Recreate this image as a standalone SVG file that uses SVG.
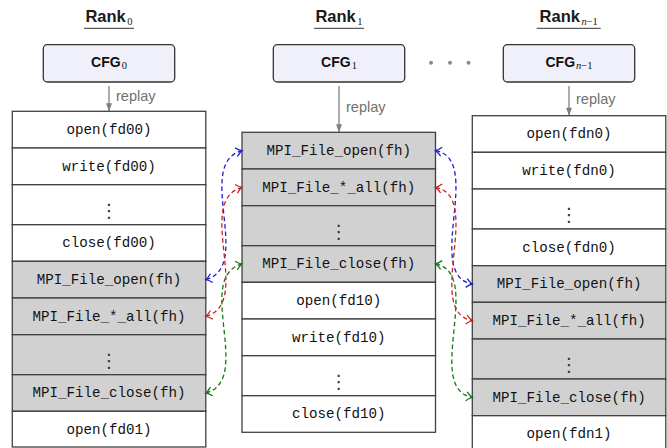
<svg xmlns="http://www.w3.org/2000/svg" width="667" height="448" viewBox="0 0 667 448">
<style>
.rank{font-family:"Liberation Sans",Arial,sans-serif;font-weight:bold;font-size:16.5px;fill:#1a1a1a;text-anchor:middle}
.sub{font-family:"Liberation Serif","Times New Roman",serif;font-weight:normal;font-size:10.5px}
.it{font-style:italic}
.ul{stroke:#333;stroke-width:1}
.cfgbox{fill:#f0f0fb;stroke:#333;stroke-width:1.3}
.cfgt{font-family:"Liberation Sans",Arial,sans-serif;font-weight:bold;font-size:14px;fill:#111;text-anchor:middle}
.w{fill:#fff;stroke:#404040;stroke-width:1.3}
.g{fill:#d1d1d1;stroke:#404040;stroke-width:1.3}
.code{font-family:"Liberation Mono","Courier New",monospace;font-size:14.2px;fill:#111;text-anchor:middle}
.vd{font-family:"DejaVu Sans",sans-serif;font-size:18.5px;fill:#333;text-anchor:middle}
.rp{stroke:#808080;stroke-width:1.3;fill:none}
.rl{font-family:"Liberation Sans",Arial,sans-serif;font-size:14.5px;fill:#707070}
.dot{fill:#8a8a8a}
.conn{fill:none;stroke-width:1.3;stroke-dasharray:4.5 3}
.b{stroke:#1f1fd0}.r{stroke:#cc2020}.gr{stroke:#187818}
</style>
<defs>
<marker id="tri" markerUnits="userSpaceOnUse" markerWidth="10" markerHeight="10" orient="auto" overflow="visible" refX="0" refY="0">
<path d="M0,0 L-8,-3 L-8,3 Z" fill="#808080"/>
</marker>
<marker id="ab" markerUnits="userSpaceOnUse" markerWidth="10" markerHeight="10" orient="auto-start-reverse" overflow="visible" refX="0" refY="0">
<path d="M-6,-4.5 Q-2.5,-1 0,0 Q-2.5,1 -6,4.5" fill="none" stroke="#1f1fd0" stroke-width="1.3"/>
</marker>
<marker id="ar" markerUnits="userSpaceOnUse" markerWidth="10" markerHeight="10" orient="auto-start-reverse" overflow="visible" refX="0" refY="0">
<path d="M-6,-4.5 Q-2.5,-1 0,0 Q-2.5,1 -6,4.5" fill="none" stroke="#cc2020" stroke-width="1.3"/>
</marker>
<marker id="ag" markerUnits="userSpaceOnUse" markerWidth="10" markerHeight="10" orient="auto-start-reverse" overflow="visible" refX="0" refY="0">
<path d="M-6,-4.5 Q-2.5,-1 0,0 Q-2.5,1 -6,4.5" fill="none" stroke="#187818" stroke-width="1.3"/>
</marker>
</defs>

<!-- headers -->
<g id="rank0"><text class="rank" x="109" y="21.7">Rank<tspan class="sub" dx="1.5" dy="3">0</tspan></text><line class="ul" x1="84" y1="28.3" x2="134" y2="28.3"/></g>
<g id="rank1"><text class="rank" x="339" y="21.7">Rank<tspan class="sub" dx="1.5" dy="3">1</tspan></text><line class="ul" x1="314" y1="28.3" x2="364" y2="28.3"/></g>
<g id="rankn"><text class="rank" x="568.7" y="21.7">Rank<tspan class="sub" dx="1.5" dy="3"><tspan class="it">n</tspan>−1</tspan></text><line class="ul" x1="536.7" y1="28.3" x2="600.7" y2="28.3"/></g>

<!-- CFG boxes -->
<g id="cfg0"><rect class="cfgbox" x="43.3" y="44.7" width="131.4" height="37.3" rx="4"/><text class="cfgt" x="109" y="67.3">CFG<tspan class="sub" dx="1" dy="2">0</tspan></text></g>
<g id="cfg1"><rect class="cfgbox" x="273.3" y="44.7" width="131.4" height="37.3" rx="4"/><text class="cfgt" x="339" y="67.3">CFG<tspan class="sub" dx="1" dy="2">1</tspan></text></g>
<g id="cfgn"><rect class="cfgbox" x="503.3" y="44.7" width="131.4" height="37.3" rx="4"/><text class="cfgt" x="569" y="67.3">CFG<tspan class="sub" dx="1" dy="2"><tspan class="it">n</tspan>−1</tspan></text></g>
<g id="ellipsis"><circle class="dot" cx="431" cy="62.7" r="2"/><circle class="dot" cx="450" cy="62.7" r="2"/><circle class="dot" cx="468.5" cy="62.7" r="2"/></g>

<!-- replay arrows -->
<g id="replay0"><line class="rp" x1="109" y1="86" x2="109" y2="111.3" marker-end="url(#tri)"/><text class="rl" x="116" y="101.4">replay</text></g>
<g id="replay1"><line class="rp" x1="339" y1="86" x2="339" y2="132.3" marker-end="url(#tri)"/><text class="rl" x="346" y="112.4">replay</text></g>
<g id="replayn"><line class="rp" x1="569" y1="86" x2="569" y2="115.7" marker-end="url(#tri)"/><text class="rl" x="576" y="104.4">replay</text></g>

<!-- Rank0 column -->
<g id="r0c1"><rect class="w" x="12.3" y="111.3" width="193.5" height="36.7"/><text class="code" x="109" y="133.95">open(fd00)</text></g>
<g id="r0c2"><rect class="w" x="12.3" y="148" width="193.5" height="36.7"/><text class="code" x="109" y="170.65">write(fd00)</text></g>
<g id="r0c3"><rect class="w" x="12.3" y="184.7" width="193.5" height="40"/><text class="vd" x="109" y="216.5">⋮</text></g>
<g id="r0c4"><rect class="w" x="12.3" y="224.7" width="193.5" height="36.6"/><text class="code" x="109" y="247.3">close(fd00)</text></g>
<g id="r0c5"><rect class="g" x="12.3" y="261.3" width="193.5" height="36.7"/><text class="code" x="109" y="283.95">MPI_File_open(fh)</text></g>
<g id="r0c6"><rect class="g" x="12.3" y="298" width="193.5" height="36.7"/><text class="code" x="109" y="320.65">MPI_File_*_all(fh)</text></g>
<g id="r0c7"><rect class="g" x="12.3" y="334.7" width="193.5" height="40"/><text class="vd" x="109" y="366.5">⋮</text></g>
<g id="r0c8"><rect class="g" x="12.3" y="374.7" width="193.5" height="36.6"/><text class="code" x="109" y="397.3">MPI_File_close(fh)</text></g>
<g id="r0c9"><rect class="w" x="12.3" y="411.3" width="193.5" height="35.7"/><text class="code" x="109" y="433.95">open(fd01)</text></g>

<!-- Rank1 column -->
<g id="r1c1"><rect class="g" x="242" y="132.3" width="193.5" height="36.7"/><text class="code" x="338.75" y="154.95">MPI_File_open(fh)</text></g>
<g id="r1c2"><rect class="g" x="242" y="169" width="193.5" height="36.7"/><text class="code" x="338.75" y="191.65">MPI_File_*_all(fh)</text></g>
<g id="r1c3"><rect class="g" x="242" y="205.7" width="193.5" height="40"/><text class="vd" x="338.75" y="237.5">⋮</text></g>
<g id="r1c4"><rect class="g" x="242" y="245.7" width="193.5" height="36.6"/><text class="code" x="338.75" y="268.3">MPI_File_close(fh)</text></g>
<g id="r1c5"><rect class="w" x="242" y="282.3" width="193.5" height="36.7"/><text class="code" x="338.75" y="304.95">open(fd10)</text></g>
<g id="r1c6"><rect class="w" x="242" y="319" width="193.5" height="36.7"/><text class="code" x="338.75" y="341.65">write(fd10)</text></g>
<g id="r1c7"><rect class="w" x="242" y="355.7" width="193.5" height="40"/><text class="vd" x="338.75" y="387.5">⋮</text></g>
<g id="r1c8"><rect class="w" x="242" y="395.7" width="193.5" height="36.6"/><text class="code" x="338.75" y="418.3">close(fd10)</text></g>

<!-- Rank n-1 column -->
<g id="rnc1"><rect class="w" x="472.3" y="115.7" width="193.5" height="36.6"/><text class="code" x="569.05" y="138.3">open(fdn0)</text></g>
<g id="rnc2"><rect class="w" x="472.3" y="152.3" width="193.5" height="36.7"/><text class="code" x="569.05" y="174.95">write(fdn0)</text></g>
<g id="rnc3"><rect class="w" x="472.3" y="189" width="193.5" height="40"/><text class="vd" x="569.05" y="220.5">⋮</text></g>
<g id="rnc4"><rect class="w" x="472.3" y="229" width="193.5" height="36.7"/><text class="code" x="569.05" y="251.65">close(fdn0)</text></g>
<g id="rnc5"><rect class="g" x="472.3" y="265.7" width="193.5" height="36.6"/><text class="code" x="569.05" y="288.3">MPI_File_open(fh)</text></g>
<g id="rnc6"><rect class="g" x="472.3" y="302.3" width="193.5" height="36.7"/><text class="code" x="569.05" y="324.95">MPI_File_*_all(fh)</text></g>
<g id="rnc7"><rect class="g" x="472.3" y="339" width="193.5" height="40"/><text class="vd" x="569.05" y="370.5">⋮</text></g>
<g id="rnc8"><rect class="g" x="472.3" y="379" width="193.5" height="36.7"/><text class="code" x="569.05" y="401.65">MPI_File_close(fh)</text></g>
<g id="rnc9"><rect class="w" x="472.3" y="415.7" width="193.5" height="36.6"/><text class="code" x="569.05" y="438.3">open(fdn1)</text></g>

<!-- connectors -->
<g id="connectors">
<path class="conn b" d="M205.8,279.65 C254.1,266.75 193.7,163.55 242,150.65" marker-start="url(#ab)" marker-end="url(#ab)"/>
<path class="conn r" d="M205.8,316.35 C254.1,303.45 193.7,200.25 242,187.35" marker-start="url(#ar)" marker-end="url(#ar)"/>
<path class="conn gr" d="M205.8,393 C254.1,380.1 193.7,276.9 242,264" marker-start="url(#ag)" marker-end="url(#ag)"/>
<path class="conn b" d="M435.5,150.65 C484.7,159.35 423.1,275.3 472.3,284" marker-start="url(#ab)" marker-end="url(#ab)"/>
<path class="conn r" d="M435.5,187.35 C484.7,196.05 423.1,311.95 472.3,320.65" marker-start="url(#ar)" marker-end="url(#ar)"/>
<path class="conn gr" d="M435.5,264 C484.7,272.7 423.1,388.65 472.3,397.35" marker-start="url(#ag)" marker-end="url(#ag)"/>
</g>
</svg>
